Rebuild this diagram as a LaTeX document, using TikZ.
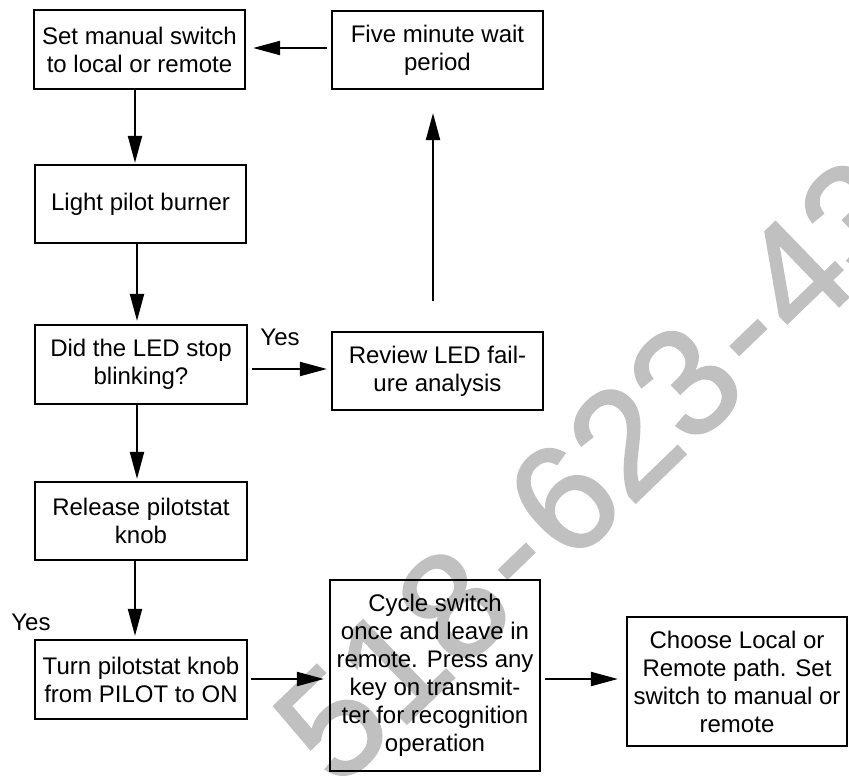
\documentclass[tikz,border=0pt]{standalone}
\usepackage{fontspec}
\setmainfont{Liberation Sans}
\newfontfamily\wmfont[FakeBold=1.5]{Liberation Sans}
\usetikzlibrary{arrows.meta}
\definecolor{wmgrey}{HTML}{C0C0C0}
\tikzset{
  stepbox/.style={draw=black, line width=2.2pt, rectangle, inner sep=0pt, align=center,
    font=\fontsize{24}{28}\selectfont},
  arr/.style={draw=black, line width=2pt, -{Triangle[length=27pt,width=14pt]}},
  lbl/.style={font=\fontsize{24}{28}\selectfont, inner sep=0pt},
  wmark/.style={text=wmgrey, inner sep=0pt, font=\wmfont\fontsize{152}{152}\selectfont}
}
\begin{document}
\begin{tikzpicture}[x=1pt,y=-1pt]
\useasboundingbox (0,0) rectangle (849,782);
\clip (0,0) rectangle (849,782);
% watermark
\node[wmark, rotate=44] (wm) at (594,470) {518\kern9pt-\kern9pt623\kern9pt-\kern9pt43};
% boxes
\node[stepbox, minimum width=211pt, minimum height=79pt] (A) at (139.5,49.5) {Set manual switch\\to local or remote};
\node[stepbox, minimum width=211pt, minimum height=78pt] (B) at (140.5,204) {Light pilot burner};
\node[stepbox, minimum width=212pt, minimum height=79pt] (C) at (141,364.5) {Did the LED stop\\blinking?};
\node[stepbox, minimum width=212pt, minimum height=78pt] (D) at (141,521) {Release pilotstat\\knob};
\node[stepbox, minimum width=212pt, minimum height=79pt] (E) at (141,679.5) {Turn pilotstat knob\\from PILOT to ON};
\node[stepbox, minimum width=211pt, minimum height=78pt] (F) at (437.5,50) {Five minute wait\\period};
\node[stepbox, minimum width=211pt, minimum height=78pt] (R) at (437.5,371) {Review LED fail-\\ure analysis};
\node[stepbox, minimum width=210pt, minimum height=191pt] (Cy) at (435,675.5) {Cycle switch\\once and leave in\\remote. Press any\\key on transmit-\\ter for recognition\\operation};
\node[stepbox, minimum width=220pt, minimum height=129pt] (Ch) at (737,681.5) {Choose Local or\\Remote path. Set\\switch to manual or\\remote};
% labels
\node[lbl] (yes1) at (280,337) {Yes};
\node[lbl] (yes2) at (31,622) {Yes};
% helper coordinates
\coordinate (c135) at (135,0);
\coordinate (c137) at (137,0);
\coordinate (c433) at (433,0);
\coordinate (r48) at (0,48);
\coordinate (r369) at (0,369);
\coordinate (r679) at (0,679);
% connectors
\draw[arr, shorten >=1pt] (A.south -| c135) -- (B.north -| c135);
\draw[arr, shorten >=3pt] (B.south -| c137) -- (C.north -| c137);
\draw[arr, shorten >=2pt] (C.south -| c137) -- (D.north -| c137);
\draw[arr, shorten >=3pt] (D.south -| c135) -- (E.north -| c135);
\draw[arr, shorten <=4pt, shorten >=4pt] (C.east |- r369) -- (R.west |- r369);
\draw[arr, shorten <=30pt, shorten >=23pt] (R.north -| c433) -- (F.south -| c433);
\draw[arr, shorten <=4pt, shorten >=7pt] (F.west |- r48) -- (A.east |- r48);
\draw[arr, shorten <=3pt, shorten >=5pt] (E.east |- r679) -- (Cy.west |- r679);
\draw[arr, shorten <=4pt, shorten >=8pt] (Cy.east |- r679) -- (Ch.west |- r679);
\end{tikzpicture}
\end{document}
